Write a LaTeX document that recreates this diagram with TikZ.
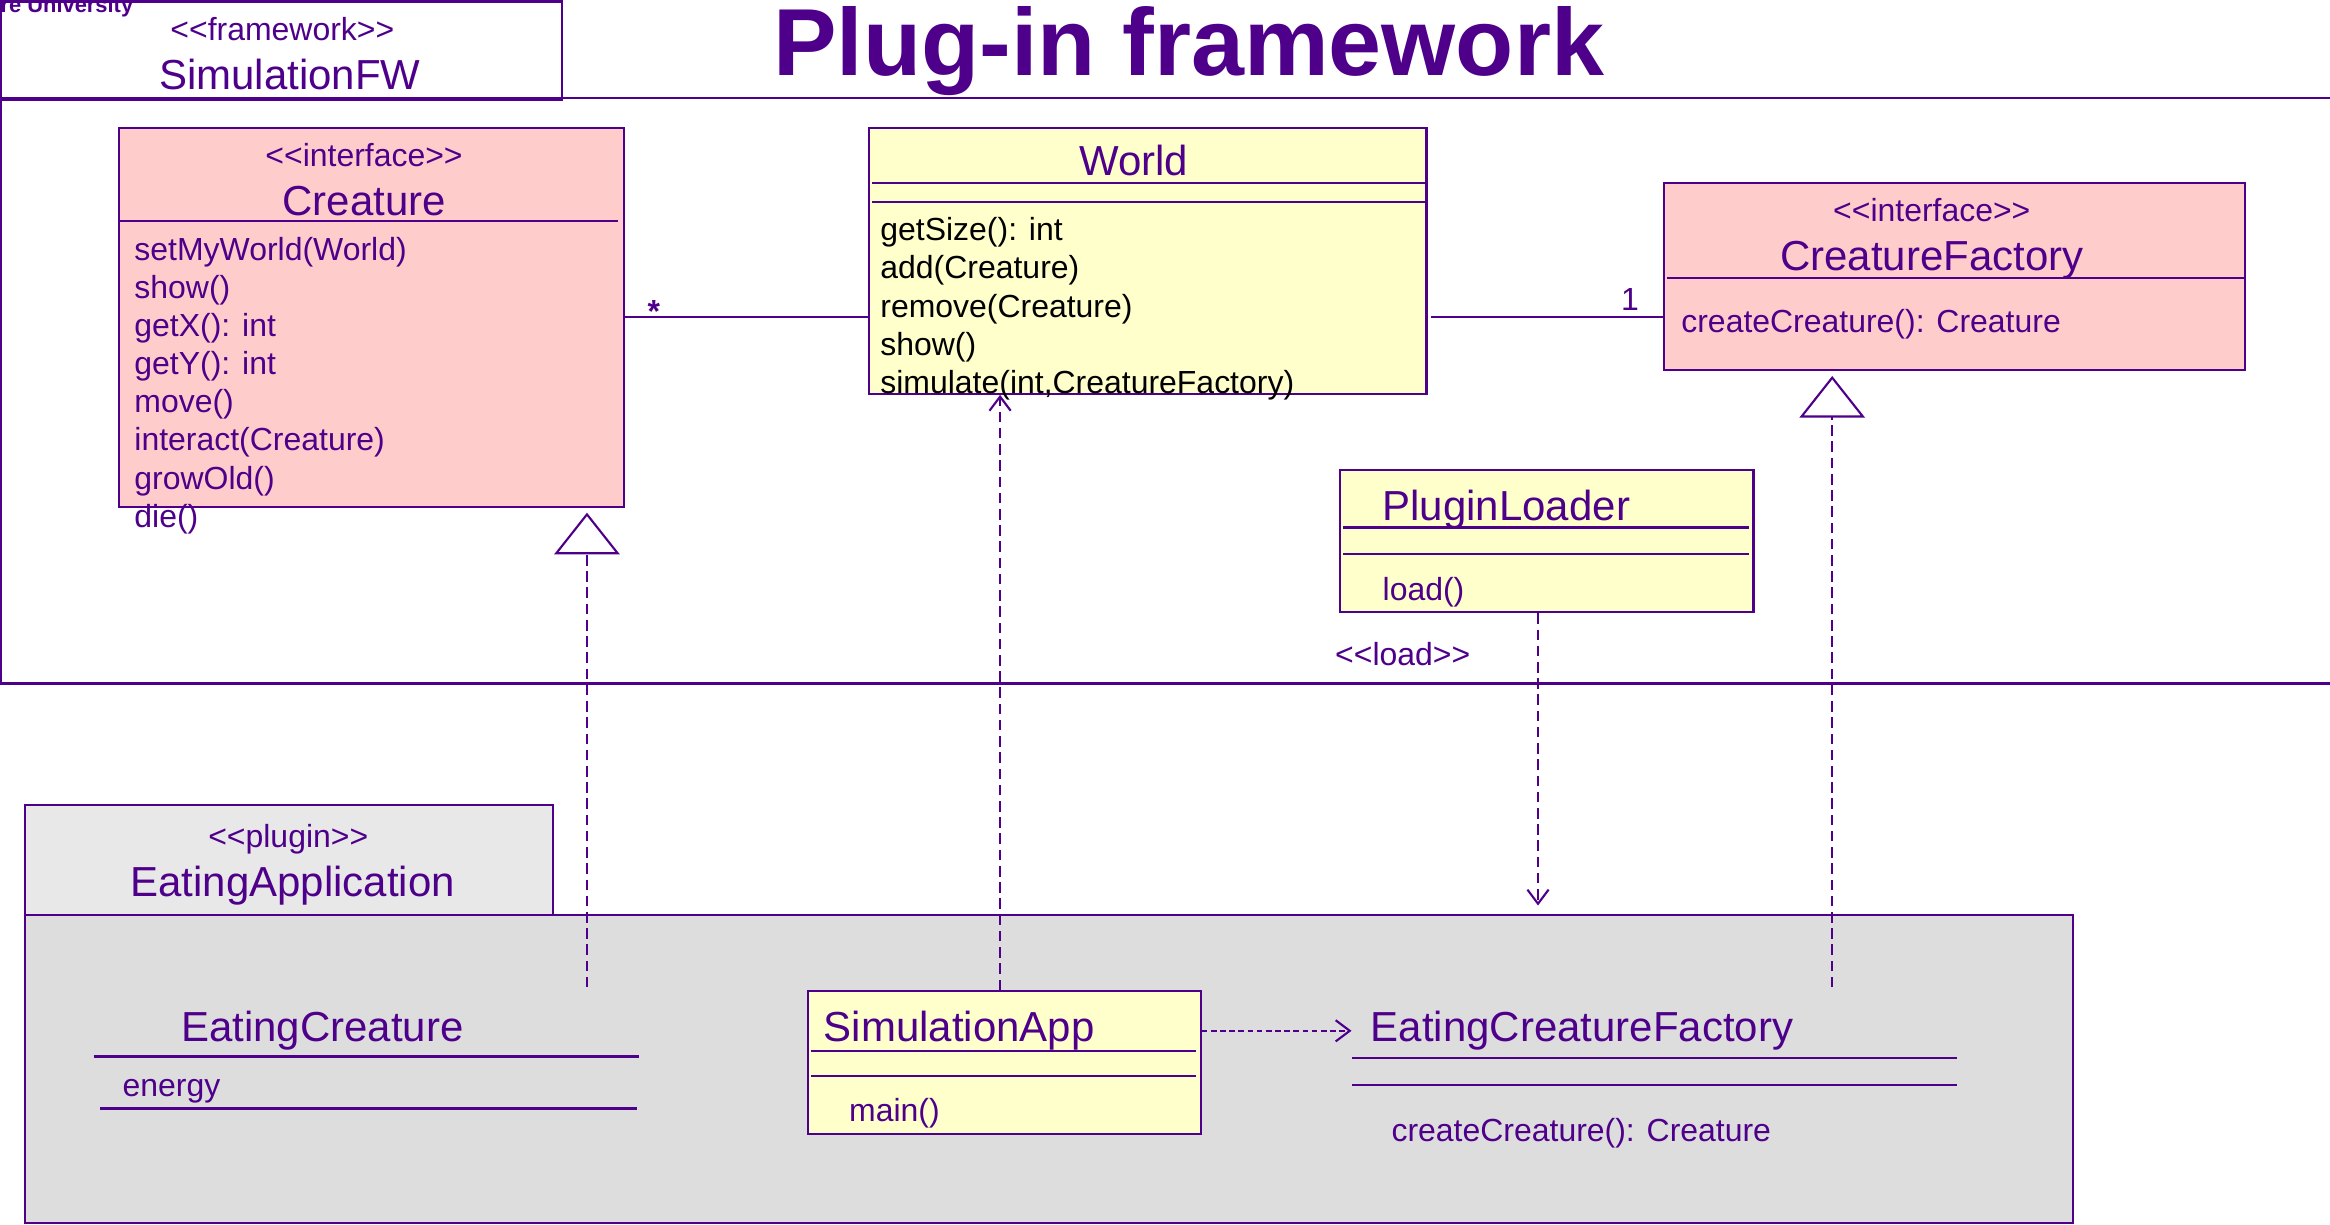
\documentclass[tikz,border=0pt]{standalone}
\usepackage{fontspec}
\setmainfont{Liberation Sans}
\usetikzlibrary{arrows.meta,fit}

\definecolor{umlink}{RGB}{78,0,138}
\definecolor{ifacepink}{RGB}{255,204,204}
\definecolor{classyellow}{RGB}{255,255,204}
\definecolor{tabgray}{RGB}{232,232,232}
\definecolor{bodygray}{RGB}{221,221,221}

\newcommand{\memberfont}{\fontsize{9.06}{10.5}\selectfont}
\newcommand{\namefont}{\fontsize{11.9}{14}\selectfont}
% keep << >> as two plain signs (no guillemet mapping)
\newcommand{\stereotype}[1]{<\kern0pt<#1>\kern0pt>}

\tikzset{
  box/.style={draw=umlink,line width=0.6pt,inner sep=0pt},
  sep/.style={draw=umlink,line width=0.6pt},
  member/.style={anchor=base west,inner sep=0pt,font=\memberfont,text=umlink},
  classname/.style={anchor=base,inner sep=0pt,font=\namefont,text=umlink},
  stereo/.style={anchor=base,inner sep=0pt,font=\memberfont,text=umlink},
  realize/.style={draw=umlink,line width=0.6pt,dash pattern=on 3pt off 1.6pt,
    -{Triangle[length=11.8pt,width=18.5pt,fill=white]}},
  depend/.style={draw=umlink,line width=0.6pt,dash pattern=on 3pt off 1.6pt,
    -{Straight Barb[length=4pt,width=6pt]}},
}

\begin{document}
\begin{tikzpicture}[x=0.4213pt,y=-0.4213pt]
  \useasboundingbox (0,0) rectangle (1568,824);
  \node[anchor=base west,inner sep=0pt,font=\fontsize{6.2}{7.5}\selectfont\bfseries,text=umlink] (uni) at (0,8.5) {re University};
  \node[anchor=base,inner sep=0pt,font=\fontsize{27}{30}\selectfont\bfseries,text=umlink] (heading) at (800,51) {Plug-in framework};

  % framework package
  \node[box,fit={(0.5,1) (378,67)}] (fwtab) {};
  \draw[sep] (1568,66) -- (0.5,66) -- (0.5,460) -- (1568,460);
  \node[stereo] (fwstereo) at (190,27) {\stereotype{framework}};
  \node[classname] (fwname) at (195,60) {SimulationFW};

  % Creature
  \node[box,fill=ifacepink,fit={(80,86) (420,341)}] (creature) {};
  \node[stereo] (crstereo) at (245,112) {\stereotype{interface}};
  \node[classname] (crname) at (245,145) {Creature};
  \draw[sep] (80,149) -- (416,149);
  \foreach \m [count=\i from 0] in {setMyWorld(World), show(), getX(): int, getY(): int,
      move(), interact(Creature), growOld(), die()}
    \node[member] (crm\i) at (90,{175+25.7*\i}) {\m};

  % World
  \node[box,fill=classyellow,fit={(585,86) (960,265)}] (world) {};
  \node[classname] (wname) at (763,118) {World};
  \draw[sep] (587,123) -- (960,123);
  \draw[sep] (587,136) -- (960,136);
  \foreach \m [count=\i from 0] in {getSize(): int, add(Creature), remove(Creature), show(),
      {simulate(int,CreatureFactory)}}
    \node[member,text=black] (wm\i) at (592,{162+25.75*\i}) {\m};

  % CreatureFactory
  \node[box,fill=ifacepink,fit={(1120,123) (1511,249)}] (cfactory) {};
  \node[stereo] (cfstereo) at (1300,149) {\stereotype{interface}};
  \node[classname] (cfname) at (1300,182) {CreatureFactory};
  \draw[sep] (1122,187) -- (1510,187);
  \node[member] (cfm0) at (1131,224) {createCreature(): Creature};

  % PluginLoader
  \node[box,fill=classyellow,fit={(902,316) (1180,412)}] (ploader) {};
  \node[classname,anchor=base west] (plname) at (930,350) {PluginLoader};
  \draw[sep] (904,355) -- (1177,355);
  \draw[sep] (904,373) -- (1177,373);
  \node[member] (plm0) at (930,404) {load()};
  \node[stereo] (loadlbl) at (944,448) {\stereotype{load}};

  % plugin package
  \node[box,fill=tabgray,fit={(17,542) (372,616)}] (plugtab) {};
  \node[box,fill=bodygray,fit={(17,616) (1395,823)}] (plugbody) {};
  \node[stereo] (plstereo) at (194,570) {\stereotype{plugin}};
  \node[classname] (plugname) at (197,603) {EatingApplication};

  % EatingCreature
  \node[inner sep=0pt,fit={(63,665) (430,746)}] (ecreature) {};
  \node[classname] (ecname) at (217,701) {EatingCreature};
  \draw[sep] (63,711) -- (430,711);
  \node[member] (ecm0) at (82,738) {energy};
  \draw[sep] (67,746) -- (429,746);

  % SimulationApp
  \node[box,fill=classyellow,fit={(544,667) (808,763)}] (simapp) {};
  \node[classname,anchor=base west] (saname) at (554,701) {SimulationApp};
  \draw[sep] (546,707) -- (805,707);
  \draw[sep] (546,724) -- (805,724);
  \node[member] (sam0) at (571,755) {main()};

  % EatingCreatureFactory
  \node[inner sep=0pt,fit={(910,665) (1317,775)}] (ecfactory) {};
  \node[classname,anchor=base west] (ecfname) at (922,701) {EatingCreatureFactory};
  \draw[sep] (910,712) -- (1317,712);
  \draw[sep] (910,730) -- (1317,730);
  \node[member] (ecfm0) at (936,768) {createCreature(): Creature};

  % associations
  \coordinate (crtip) at (395,345);
  \coordinate (cftip) at (1233,253);
  \coordinate (appcol) at (673,0);
  \coordinate (loadcol) at (1035,0);
  \draw[sep] (creature.east) -- (creature.east -| world.west);
  \node[stereo,font=\memberfont\bfseries] (many) at (440,217) {*};
  \draw[sep] ([xshift=1pt]world.east |- creature.east) -- (cfactory.west |- creature.east);
  \node[stereo] (one) at (1097,209) {1};

  % realizations and dependencies
  \draw[realize] (ecreature.north -| crtip) -- (crtip);
  \draw[realize] (ecfactory.north -| cftip) -- (cftip);
  \draw[depend] (simapp.north -| appcol) -- (world.south -| appcol);
  \draw[depend,shorten >=2.5pt] (ploader.south -| loadcol) -- (plugbody.north -| loadcol);
  \draw[depend,dash pattern=on 1.6pt off 1pt] (simapp.east |- ecfname.west) -- (ecfactory.west |- ecfname.west);
\end{tikzpicture}
\end{document}
